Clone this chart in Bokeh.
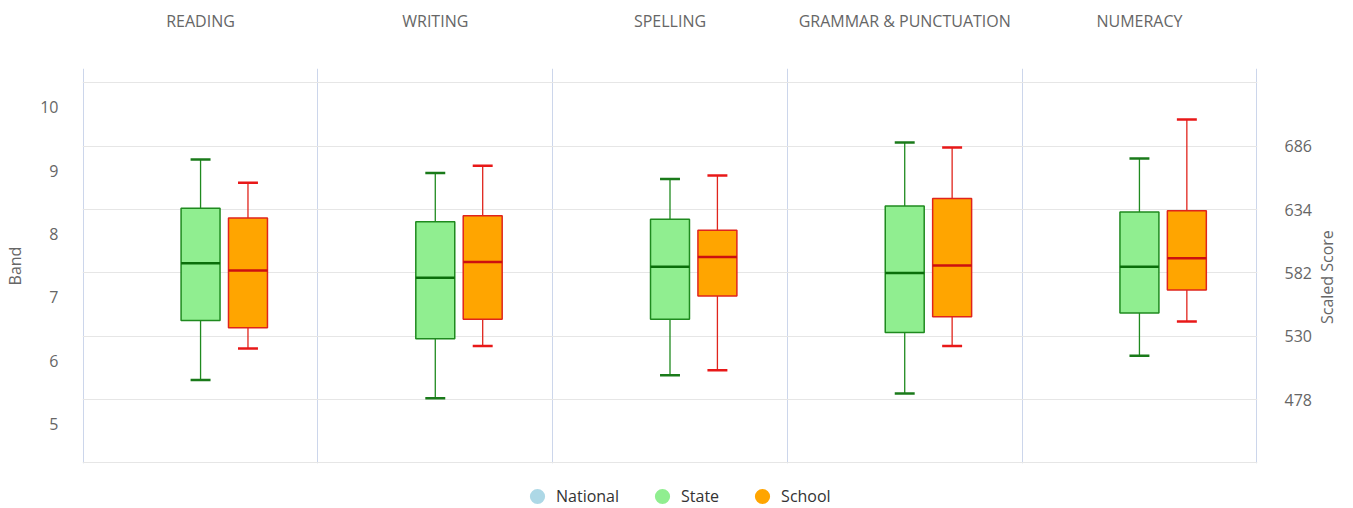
import math
from bokeh.plotting import figure
from bokeh.layouts import column
from bokeh.models import (Range1d, LinearAxis, FixedTicker, ColumnDataSource,
                          Legend, LegendItem)
from bokeh.embed import file_html
from bokeh.resources import INLINE

categories = ["READING", "WRITING", "SPELLING", "GRAMMAR & PUNCTUATION", "NUMERACY"]
series = ["National", "State", "School"]

state_low = [494, 479, 498, 483, 514]
state_q1 = [543, 528, 544, 533, 549]
state_median = [590, 578, 587, 582, 587]
state_q3 = [635, 624, 626, 637, 632]
state_high = [675, 664, 659, 689, 676]

school_low = [520, 522, 502, 522, 542]
school_q1 = [537, 544, 563, 546, 568]
school_median = [584, 591, 595, 588, 594]
school_q3 = [627, 629, 617, 643, 633]
school_high = [656, 670, 662, 685, 708]

score_ticks = [478, 530, 582, 634, 686]
grid_ticks = [426, 478, 530, 582, 634, 686, 738]
band_ticks = [5, 6, 7, 8, 9, 10]

FONT = "Open Sans"
n = len(categories)

p = figure(width=1353, height=465, output_backend="svg", toolbar_location=None,
           x_range=Range1d(-0.003, n + 0.003), y_range=Range1d(425.5, 749.8),
           x_axis_location="above", y_axis_location="right",
           min_border_left=82, min_border_right=96, min_border_top=68,
           min_border_bottom=2)
p.outline_line_color = None
p.extra_y_ranges = {"band": Range1d(4.38, 10.61)}


def plain(ax):
    ax.axis_line_color = None
    ax.major_tick_line_color = None
    ax.minor_tick_line_color = None
    ax.major_label_text_font = FONT
    ax.major_label_text_font_size = "16px"
    ax.major_label_text_color = "#666666"


# top category axis
xa = p.xaxis[0]
xa.ticker = FixedTicker(ticks=[i + 0.5 for i in range(n)])
xa.major_label_overrides = {i + 0.5: c for i, c in enumerate(categories)}
plain(xa)
xa.major_label_standoff = 31

# right axis (scaled score numbers)
ra = p.yaxis[0]
ra.ticker = FixedTicker(ticks=score_ticks)
plain(ra)
ra.major_label_standoff = 21

# right axis title, drawn as a rotated single label reading bottom-to-top
title_anchor = 540
rt = LinearAxis(ticker=FixedTicker(ticks=[title_anchor]),
                major_label_overrides={title_anchor: "Scaled Score"},
                major_label_orientation=math.pi / 2)
plain(rt)
rt.major_label_standoff = 7
p.add_layout(rt, "right")

# left axis (band)
la = LinearAxis(y_range_name="band", ticker=FixedTicker(ticks=band_ticks))
plain(la)
la.major_label_standoff = 18
la.axis_label = "Band"
la.axis_label_text_font = FONT
la.axis_label_text_font_size = "16px"
la.axis_label_text_font_style = "normal"
la.axis_label_text_color = "#666666"
la.axis_label_standoff = 11
p.add_layout(la, "left")

# grids
p.ygrid.ticker = FixedTicker(ticks=grid_ticks)
p.ygrid.grid_line_color = "#e6e6e6"
p.ygrid.grid_line_width = 1
p.xgrid.ticker = FixedTicker(ticks=list(range(n + 1)))
p.xgrid.grid_line_color = "#ccd6eb"
p.xgrid.grid_line_width = 1

offsets = {"National": -0.202, "State": 0.0, "School": 0.202}
box_w = 0.166
cap_w = 0.085


def draw(name, low, q1, med, q3, high, fill, line, med_color, cap_color):
    xs = [i + 0.5 + offsets[name] for i in range(n)]
    src = ColumnDataSource(dict(x=xs, low=low, q1=q1, med=med, q3=q3, high=high,
                                x0=[x - box_w / 2 for x in xs], x1=[x + box_w / 2 for x in xs],
                                c0=[x - cap_w / 2 for x in xs], c1=[x + cap_w / 2 for x in xs]))
    p.segment(x0="x", y0="q3", x1="x", y1="high", source=src, line_color=line, line_width=1.3)
    p.segment(x0="x", y0="q1", x1="x", y1="low", source=src, line_color=line, line_width=1.3)
    p.vbar(x="x", top="q3", bottom="q1", width=box_w, source=src,
           fill_color=fill, line_color=line, line_width=1.5)
    p.segment(x0="x0", y0="med", x1="x1", y1="med", source=src, line_color=med_color, line_width=2.5)
    p.segment(x0="c0", y0="high", x1="c1", y1="high", source=src, line_color=cap_color, line_width=2.5)
    p.segment(x0="c0", y0="low", x1="c1", y1="low", source=src, line_color=cap_color, line_width=2.5)


draw("State", state_low, state_q1, state_median, state_q3, state_high,
     "#90ee90", "#1f8a1f", "#0a6e0a", "#1a7a1a")
draw("School", school_low, school_q1, school_median, school_q3, school_high,
     "#ffa500", "#e0241c", "#cc1010", "#e81818")

# legend strip below the chart
lg = figure(width=1353, height=43, output_backend="svg", toolbar_location=None,
            x_range=Range1d(0, 1), y_range=Range1d(0, 1),
            x_axis_location=None, y_axis_location=None,
            min_border_left=0, min_border_right=0, min_border_top=0, min_border_bottom=0)
lg.outline_line_color = None
lg.grid.visible = False

legend_colors = {"National": "#add8e6", "State": "#90ee90", "School": "#ffa500"}
items = []
for s in series:
    # point kept outside the visible range; only its legend swatch shows
    r = lg.scatter(x=[5], y=[5], marker="circle", size=15, fill_color=legend_colors[s],
                   line_color=None)
    items.append(LegendItem(label=s, renderers=[r]))

legend = Legend(items=items, orientation="horizontal", location=(436, -7),
                border_line_color=None, background_fill_alpha=0,
                label_text_font=FONT, label_text_font_size="16px",
                label_text_color="#333333", spacing=24, padding=0, margin=0,
                glyph_width=38, glyph_height=38, label_standoff=0, label_height=16)
lg.add_layout(legend, "center")

layout = column(p, lg, spacing=0)
open("out.html", "w").write(file_html(layout, INLINE))
